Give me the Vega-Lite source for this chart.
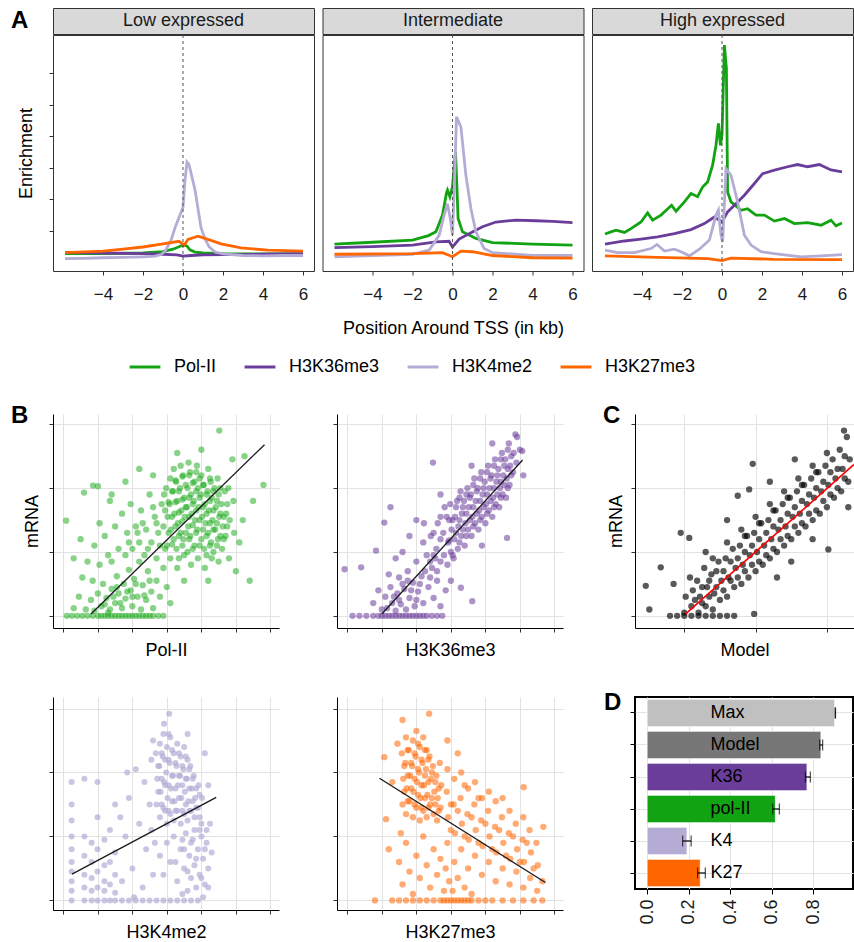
{
"$schema": "https://vega.github.io/schema/vega-lite/v6.json",
"padding": {"left": 10, "top": 7, "right": 0, "bottom": 0},
"background": "white",
"config": {
  "font": "Liberation Sans",
  "view": {"stroke": null},
  "axis": {"labelFont": "Liberation Sans", "titleFont": "Liberation Sans", "titleFontWeight": "normal", "labelColor": "#1a1a1a", "titleColor": "black", "tickColor": "#333333", "domainColor": "black", "gridColor": "#e2e2e2", "tickSize": 4, "labelFontSize": 17, "titleFontSize": 18},
  "title": {"font": "Liberation Sans", "fontWeight": "bold", "fontSize": 24, "color": "black", "anchor": "start", "frame": "group"}
},
"datasets": {
  "lowA": [
    {"s":"Pol-II","x":-5.9,"y":0.28},{"s":"Pol-II","x":-4,"y":0.28},{"s":"Pol-II","x":-2,"y":0.3},{"s":"Pol-II","x":-1,"y":0.34},{"s":"Pol-II","x":-0.5,"y":0.42},{"s":"Pol-II","x":-0.2,"y":0.5},{"s":"Pol-II","x":0.05,"y":0.57},{"s":"Pol-II","x":0.2,"y":0.52},{"s":"Pol-II","x":0.35,"y":0.4},{"s":"Pol-II","x":0.6,"y":0.33},{"s":"Pol-II","x":1,"y":0.3},{"s":"Pol-II","x":2,"y":0.28},{"s":"Pol-II","x":4,"y":0.27},{"s":"Pol-II","x":6,"y":0.27},
    {"s":"H3K36me3","x":-5.9,"y":0.32},{"s":"H3K36me3","x":-4,"y":0.3},{"s":"H3K36me3","x":-2,"y":0.28},{"s":"H3K36me3","x":-1,"y":0.26},{"s":"H3K36me3","x":-0.3,"y":0.24},{"s":"H3K36me3","x":0,"y":0.2},{"s":"H3K36me3","x":0.4,"y":0.22},{"s":"H3K36me3","x":1,"y":0.24},{"s":"H3K36me3","x":2,"y":0.25},{"s":"H3K36me3","x":4,"y":0.26},{"s":"H3K36me3","x":6,"y":0.28},
    {"s":"H3K4me2","x":-5.9,"y":0.12},{"s":"H3K4me2","x":-5,"y":0.13},{"s":"H3K4me2","x":-4,"y":0.15},{"s":"H3K4me2","x":-3,"y":0.16},{"s":"H3K4me2","x":-2,"y":0.18},{"s":"H3K4me2","x":-1.4,"y":0.2},{"s":"H3K4me2","x":-1.1,"y":0.25},{"s":"H3K4me2","x":-0.9,"y":0.35},{"s":"H3K4me2","x":-0.6,"y":0.7},{"s":"H3K4me2","x":-0.4,"y":1.1},{"s":"H3K4me2","x":-0.15,"y":1.5},{"s":"H3K4me2","x":0,"y":1.75},{"s":"H3K4me2","x":0.1,"y":2.6},{"s":"H3K4me2","x":0.2,"y":3.18},{"s":"H3K4me2","x":0.3,"y":3.1},{"s":"H3K4me2","x":0.45,"y":2.7},{"s":"H3K4me2","x":0.6,"y":2.3},{"s":"H3K4me2","x":0.75,"y":1.7},{"s":"H3K4me2","x":0.9,"y":1.1},{"s":"H3K4me2","x":1.1,"y":0.75},{"s":"H3K4me2","x":1.3,"y":0.5},{"s":"H3K4me2","x":1.6,"y":0.33},{"s":"H3K4me2","x":2,"y":0.27},{"s":"H3K4me2","x":3,"y":0.22},{"s":"H3K4me2","x":4,"y":0.21},{"s":"H3K4me2","x":5,"y":0.22},{"s":"H3K4me2","x":6,"y":0.22},
    {"s":"H3K27me3","x":-5.9,"y":0.31},{"s":"H3K27me3","x":-4,"y":0.36},{"s":"H3K27me3","x":-3,"y":0.42},{"s":"H3K27me3","x":-2,"y":0.49},{"s":"H3K27me3","x":-1,"y":0.59},{"s":"H3K27me3","x":-0.2,"y":0.67},{"s":"H3K27me3","x":0.06,"y":0.55},{"s":"H3K27me3","x":0.25,"y":0.73},{"s":"H3K27me3","x":0.75,"y":0.83},{"s":"H3K27me3","x":1.25,"y":0.73},{"s":"H3K27me3","x":1.9,"y":0.59},{"s":"H3K27me3","x":2.9,"y":0.46},{"s":"H3K27me3","x":4.25,"y":0.39},{"s":"H3K27me3","x":6,"y":0.36}
  ],
  "midA": [
    {"s":"Pol-II","x":-5.9,"y":0.58},{"s":"Pol-II","x":-4,"y":0.64},{"s":"Pol-II","x":-2,"y":0.71},{"s":"Pol-II","x":-1.2,"y":0.85},{"s":"Pol-II","x":-0.83,"y":0.97},{"s":"Pol-II","x":-0.5,"y":1.5},{"s":"Pol-II","x":-0.3,"y":2.2},{"s":"Pol-II","x":-0.25,"y":2.29},{"s":"Pol-II","x":-0.13,"y":2.08},{"s":"Pol-II","x":0,"y":2.4},{"s":"Pol-II","x":0.08,"y":3.0},{"s":"Pol-II","x":0.15,"y":3.5},{"s":"Pol-II","x":0.22,"y":2.4},{"s":"Pol-II","x":0.28,"y":1.39},{"s":"Pol-II","x":0.5,"y":0.97},{"s":"Pol-II","x":1.17,"y":0.76},{"s":"Pol-II","x":2,"y":0.63},{"s":"Pol-II","x":4,"y":0.58},{"s":"Pol-II","x":6,"y":0.55},
    {"s":"H3K36me3","x":-5.9,"y":0.47},{"s":"H3K36me3","x":-4,"y":0.5},{"s":"H3K36me3","x":-2,"y":0.55},{"s":"H3K36me3","x":-0.83,"y":0.65},{"s":"H3K36me3","x":-0.17,"y":0.67},{"s":"H3K36me3","x":0,"y":0.49},{"s":"H3K36me3","x":0.33,"y":0.74},{"s":"H3K36me3","x":0.83,"y":0.91},{"s":"H3K36me3","x":1.5,"y":1.13},{"s":"H3K36me3","x":2.17,"y":1.28},{"s":"H3K36me3","x":3.17,"y":1.34},{"s":"H3K36me3","x":4.17,"y":1.32},{"s":"H3K36me3","x":5,"y":1.3},{"s":"H3K36me3","x":6,"y":1.26},
    {"s":"H3K4me2","x":-5.9,"y":0.18},{"s":"H3K4me2","x":-4,"y":0.22},{"s":"H3K4me2","x":-2,"y":0.26},{"s":"H3K4me2","x":-1.17,"y":0.39},{"s":"H3K4me2","x":-0.67,"y":0.86},{"s":"H3K4me2","x":-0.42,"y":1.5},{"s":"H3K4me2","x":-0.25,"y":1.86},{"s":"H3K4me2","x":-0.08,"y":1.28},{"s":"H3K4me2","x":0,"y":0.86},{"s":"H3K4me2","x":0.12,"y":2.97},{"s":"H3K4me2","x":0.2,"y":4.61},{"s":"H3K4me2","x":0.42,"y":4.29},{"s":"H3K4me2","x":0.67,"y":2.76},{"s":"H3K4me2","x":0.92,"y":1.71},{"s":"H3K4me2","x":1.17,"y":0.97},{"s":"H3K4me2","x":1.58,"y":0.44},{"s":"H3K4me2","x":2,"y":0.31},{"s":"H3K4me2","x":4,"y":0.22},{"s":"H3K4me2","x":6,"y":0.22},
    {"s":"H3K27me3","x":-5.9,"y":0.26},{"s":"H3K27me3","x":-2,"y":0.28},{"s":"H3K27me3","x":-0.5,"y":0.31},{"s":"H3K27me3","x":0,"y":0.18},{"s":"H3K27me3","x":0.42,"y":0.36},{"s":"H3K27me3","x":1,"y":0.34},{"s":"H3K27me3","x":2,"y":0.22},{"s":"H3K27me3","x":4,"y":0.15},{"s":"H3K27me3","x":6,"y":0.14}
  ],
  "highA": [
    {"s":"Pol-II","x":-5.85,"y":0.9},{"s":"Pol-II","x":-5.55,"y":0.97},{"s":"Pol-II","x":-5.3,"y":1.02},{"s":"Pol-II","x":-4.88,"y":0.95},{"s":"Pol-II","x":-4.55,"y":1.07},{"s":"Pol-II","x":-4.05,"y":1.28},{"s":"Pol-II","x":-3.72,"y":1.57},{"s":"Pol-II","x":-3.47,"y":1.34},{"s":"Pol-II","x":-3.05,"y":1.5},{"s":"Pol-II","x":-2.52,"y":1.81},{"s":"Pol-II","x":-2.3,"y":1.62},{"s":"Pol-II","x":-1.88,"y":1.92},{"s":"Pol-II","x":-1.55,"y":2.18},{"s":"Pol-II","x":-1.22,"y":2.08},{"s":"Pol-II","x":-0.97,"y":2.39},{"s":"Pol-II","x":-0.72,"y":2.55},{"s":"Pol-II","x":-0.47,"y":3.08},{"s":"Pol-II","x":-0.3,"y":3.71},{"s":"Pol-II","x":-0.18,"y":4.4},{"s":"Pol-II","x":-0.08,"y":3.71},{"s":"Pol-II","x":0,"y":4.03},{"s":"Pol-II","x":0.12,"y":6.88},{"s":"Pol-II","x":0.22,"y":6.14},{"s":"Pol-II","x":0.28,"y":2.23},{"s":"Pol-II","x":0.45,"y":1.92},{"s":"Pol-II","x":0.95,"y":1.65},{"s":"Pol-II","x":1.28,"y":1.7},{"s":"Pol-II","x":1.7,"y":1.5},{"s":"Pol-II","x":2.12,"y":1.5},{"s":"Pol-II","x":2.62,"y":1.31},{"s":"Pol-II","x":3.12,"y":1.39},{"s":"Pol-II","x":3.62,"y":1.23},{"s":"Pol-II","x":4.28,"y":1.26},{"s":"Pol-II","x":4.95,"y":1.18},{"s":"Pol-II","x":5.45,"y":1.34},{"s":"Pol-II","x":5.7,"y":1.16},{"s":"Pol-II","x":6,"y":1.25},
    {"s":"H3K36me3","x":-5.85,"y":0.58},{"s":"H3K36me3","x":-4.88,"y":0.68},{"s":"H3K36me3","x":-4.05,"y":0.74},{"s":"H3K36me3","x":-3.22,"y":0.81},{"s":"H3K36me3","x":-2.38,"y":0.91},{"s":"H3K36me3","x":-1.55,"y":1.04},{"s":"H3K36me3","x":-0.88,"y":1.23},{"s":"H3K36me3","x":-0.38,"y":1.44},{"s":"H3K36me3","x":0,"y":1.28},{"s":"H3K36me3","x":0.28,"y":1.6},{"s":"H3K36me3","x":0.62,"y":1.81},{"s":"H3K36me3","x":1.12,"y":2.13},{"s":"H3K36me3","x":1.62,"y":2.5},{"s":"H3K36me3","x":2.03,"y":2.81},{"s":"H3K36me3","x":2.62,"y":2.92},{"s":"H3K36me3","x":3.28,"y":3.03},{"s":"H3K36me3","x":3.78,"y":3.1},{"s":"H3K36me3","x":4.28,"y":3.03},{"s":"H3K36me3","x":4.87,"y":3.1},{"s":"H3K36me3","x":5.45,"y":2.93},{"s":"H3K36me3","x":6,"y":2.87},
    {"s":"H3K4me2","x":-5.85,"y":0.39},{"s":"H3K4me2","x":-5.22,"y":0.31},{"s":"H3K4me2","x":-4.38,"y":0.31},{"s":"H3K4me2","x":-3.55,"y":0.44},{"s":"H3K4me2","x":-3.25,"y":0.57},{"s":"H3K4me2","x":-2.88,"y":0.36},{"s":"H3K4me2","x":-2.38,"y":0.42},{"s":"H3K4me2","x":-2.05,"y":0.34},{"s":"H3K4me2","x":-1.63,"y":0.21},{"s":"H3K4me2","x":-1.13,"y":0.42},{"s":"H3K4me2","x":-0.63,"y":0.71},{"s":"H3K4me2","x":-0.3,"y":1.5},{"s":"H3K4me2","x":-0.18,"y":1.66},{"s":"H3K4me2","x":-0.05,"y":0.86},{"s":"H3K4me2","x":0.03,"y":0.65},{"s":"H3K4me2","x":0.2,"y":2.97},{"s":"H3K4me2","x":0.45,"y":2.76},{"s":"H3K4me2","x":0.78,"y":1.92},{"s":"H3K4me2","x":1.12,"y":0.86},{"s":"H3K4me2","x":1.45,"y":0.55},{"s":"H3K4me2","x":1.95,"y":0.34},{"s":"H3K4me2","x":2.62,"y":0.28},{"s":"H3K4me2","x":3.95,"y":0.18},{"s":"H3K4me2","x":4.95,"y":0.21},{"s":"H3K4me2","x":6,"y":0.25},
    {"s":"H3K27me3","x":-5.85,"y":0.21},{"s":"H3K27me3","x":-3.2,"y":0.16},{"s":"H3K27me3","x":-0.72,"y":0.12},{"s":"H3K27me3","x":0,"y":0.06},{"s":"H3K27me3","x":0.45,"y":0.14},{"s":"H3K27me3","x":2.6,"y":0.1},{"s":"H3K27me3","x":6,"y":0.09}
  ],
  "pol": [
    {"x":0.1,"y":0},{"x":0.25,"y":0},{"x":0.4,"y":0},{"x":0.55,"y":0},{"x":0.7,"y":0},{"x":0.85,"y":0},{"x":1.0,"y":0},{"x":1.1,"y":0},{"x":1.2,"y":0},{"x":1.3,"y":0},{"x":1.4,"y":0},{"x":1.5,"y":0},{"x":1.6,"y":0},{"x":1.7,"y":0},{"x":1.8,"y":0},{"x":1.9,"y":0},{"x":2.0,"y":0},{"x":2.1,"y":0},{"x":2.2,"y":0},{"x":2.3,"y":0},{"x":2.4,"y":0},{"x":2.5,"y":0},{"x":2.6,"y":0},{"x":2.75,"y":0},{"x":2.9,"y":0},
    {"x":0.65,"y":0.1},{"x":0.8,"y":0.25},{"x":0.9,"y":0.08},{"x":1.0,"y":0.35},{"x":1.1,"y":0.15},{"x":1.15,"y":0.5},{"x":1.25,"y":0.28},{"x":1.35,"y":0.1},{"x":1.4,"y":0.42},{"x":1.5,"y":0.2},{"x":1.55,"y":0.62},{"x":1.6,"y":0.35},{"x":1.7,"y":0.12},{"x":1.75,"y":0.5},{"x":1.8,"y":0.27},{"x":1.9,"y":0.72},{"x":1.95,"y":0.4},{"x":2.0,"y":0.15},{"x":2.05,"y":0.58},{"x":2.15,"y":0.3},{"x":2.2,"y":0.85},{"x":2.25,"y":0.1},{"x":2.3,"y":0.48},{"x":2.4,"y":0.25},{"x":2.45,"y":0.7},{"x":2.55,"y":0.38},{"x":2.6,"y":0.12},{"x":2.7,"y":0.55},{"x":2.8,"y":0.3},{"x":2.9,"y":0.75},{"x":3.0,"y":0.45},{"x":3.1,"y":0.2},{"x":0.45,"y":0.3},{"x":0.3,"y":0.12},{"x":0.55,"y":0.6},{"x":1.05,"y":0.8},{"x":1.3,"y":0.95},{"x":0.85,"y":0.55},
    {"x":1.2,"y":0.18},{"x":1.45,"y":0.3},{"x":1.65,"y":0.2},{"x":1.85,"y":0.38},{"x":2.1,"y":0.5},{"x":2.35,"y":0.32},{"x":1.3,"y":0.05},{"x":2.0,"y":0.3},{"x":1.55,"y":0.45},{"x":2.5,"y":0.55},
    {"x":1.2,"y":1.25},{"x":1.4,"y":0.85},{"x":1.5,"y":1.4},{"x":1.6,"y":1.05},{"x":1.7,"y":1.6},{"x":1.8,"y":0.95},{"x":1.85,"y":1.3},{"x":1.95,"y":1.75},{"x":2.0,"y":1.05},{"x":2.1,"y":1.4},{"x":2.2,"y":1.15},{"x":2.25,"y":1.65},{"x":2.35,"y":0.95},{"x":2.4,"y":1.35},{"x":2.5,"y":1.9},{"x":2.55,"y":1.15},{"x":2.65,"y":1.55},{"x":2.7,"y":0.9},{"x":2.75,"y":1.3},{"x":2.85,"y":1.75},{"x":2.95,"y":1.05},{"x":0.9,"y":1.1},{"x":1.05,"y":1.45},{"x":1.35,"y":1.8},{"x":0.7,"y":0.85},
    {"x":2.3,"y":1.45},{"x":2.6,"y":1.7},{"x":2.45,"y":1.05},{"x":2.8,"y":1.1},{"x":2.15,"y":1.3},{"x":1.9,"y":1.15},{"x":2.7,"y":1.45},
    {"x":2.9,"y":1.4},{"x":2.92,"y":1.9},{"x":3.0,"y":1.1},{"x":3.02,"y":1.55},{"x":2.98,"y":2.0},{"x":3.1,"y":0.9},{"x":3.12,"y":1.35},{"x":3.08,"y":1.75},{"x":3.1,"y":2.15},{"x":3.2,"y":1.2},{"x":3.22,"y":1.6},{"x":3.18,"y":1.95},{"x":3.2,"y":2.3},{"x":3.3,"y":0.75},{"x":3.28,"y":1.05},{"x":3.32,"y":1.45},{"x":3.3,"y":1.8},{"x":3.27,"y":2.1},{"x":3.4,"y":1.3},{"x":3.42,"y":1.65},{"x":3.38,"y":2.0},{"x":3.4,"y":2.35},{"x":3.5,"y":0.95},{"x":3.48,"y":1.2},{"x":3.52,"y":1.55},{"x":3.5,"y":1.85},{"x":3.47,"y":2.2},{"x":3.6,"y":1.0},{"x":3.62,"y":1.4},{"x":3.58,"y":1.7},{"x":3.6,"y":2.0},{"x":3.63,"y":2.4},{"x":3.7,"y":0.8},{"x":3.68,"y":1.25},{"x":3.72,"y":1.6},{"x":3.7,"y":1.9},{"x":3.67,"y":2.25},{"x":3.8,"y":1.1},{"x":3.82,"y":1.5},{"x":3.78,"y":1.8},{"x":3.8,"y":2.1},{"x":3.9,"y":0.9},{"x":3.88,"y":1.35},{"x":3.92,"y":1.7},{"x":3.9,"y":2.0},{"x":3.87,"y":2.35},{"x":4.0,"y":1.2},{"x":4.02,"y":1.55},{"x":3.98,"y":1.9},{"x":4.0,"y":2.2},{"x":4.1,"y":0.75},{"x":4.08,"y":1.05},{"x":4.12,"y":1.45},{"x":4.1,"y":1.75},{"x":4.07,"y":2.05},{"x":4.2,"y":1.3},{"x":4.22,"y":1.65},{"x":4.18,"y":1.95},{"x":4.2,"y":2.3},{"x":4.3,"y":0.9},{"x":4.28,"y":1.15},{"x":4.32,"y":1.5},{"x":4.3,"y":1.85},{"x":4.27,"y":2.1},{"x":4.4,"y":1.35},{"x":4.42,"y":1.7},{"x":4.38,"y":2.0},{"x":4.5,"y":0.85},{"x":4.48,"y":1.2},{"x":4.52,"y":1.55},{"x":4.5,"y":1.9},{"x":4.47,"y":2.15},{"x":4.6,"y":1.05},{"x":4.62,"y":1.4},{"x":4.58,"y":1.75},{"x":4.7,"y":1.25},{"x":4.72,"y":1.6},{"x":4.68,"y":1.95},{"x":4.8,"y":0.9},{"x":4.82,"y":1.5},{"x":4.78,"y":2.0},{"x":4.95,"y":1.3},{"x":4.93,"y":1.8},
    {"x":2.95,"y":1.65},{"x":3.05,"y":1.3},{"x":3.05,"y":1.78},{"x":3.15,"y":1.12},{"x":3.15,"y":1.55},{"x":3.15,"y":1.95},{"x":3.25,"y":1.4},{"x":3.25,"y":1.78},{"x":3.25,"y":2.12},{"x":3.35,"y":0.9},{"x":3.35,"y":1.25},{"x":3.35,"y":1.62},{"x":3.35,"y":1.95},{"x":3.45,"y":1.1},{"x":3.45,"y":1.48},{"x":3.45,"y":1.82},{"x":3.45,"y":2.18},{"x":3.55,"y":1.3},{"x":3.55,"y":1.7},{"x":3.55,"y":2.05},{"x":3.65,"y":1.2},{"x":3.65,"y":1.55},{"x":3.65,"y":1.85},{"x":3.65,"y":2.2},{"x":3.75,"y":1.05},{"x":3.75,"y":1.42},{"x":3.75,"y":1.75},{"x":3.75,"y":2.08},{"x":3.85,"y":1.3},{"x":3.85,"y":1.65},{"x":3.85,"y":1.95},{"x":3.85,"y":2.25},{"x":3.95,"y":1.1},{"x":3.95,"y":1.5},{"x":3.95,"y":1.85},{"x":3.95,"y":2.15},{"x":4.05,"y":1.35},{"x":4.05,"y":1.7},{"x":4.05,"y":2.05},{"x":4.15,"y":0.95},{"x":4.15,"y":1.25},{"x":4.15,"y":1.6},{"x":4.15,"y":1.9},{"x":4.25,"y":1.1},{"x":4.25,"y":1.45},{"x":4.25,"y":1.8},{"x":4.25,"y":2.15},{"x":4.35,"y":1.0},{"x":4.35,"y":1.35},{"x":4.35,"y":1.65},{"x":4.35,"y":1.95},{"x":4.45,"y":1.1},{"x":4.45,"y":1.45},{"x":4.45,"y":1.8},{"x":4.55,"y":1.25},{"x":4.55,"y":1.6},{"x":4.55,"y":2.0},{"x":4.65,"y":1.2},{"x":4.65,"y":1.55},{"x":4.75,"y":1.4},{"x":4.75,"y":1.75},
    {"x":5.1,"y":1.15},{"x":5.25,"y":2.5},{"x":5.4,"y":0.55},{"x":5.8,"y":2.05},{"x":4.52,"y":2.9},{"x":4.9,"y":2.45},{"x":2.2,"y":2.3},{"x":1.8,"y":2.1},{"x":0.6,"y":1.93},{"x":0.08,"y":1.49},{"x":0.86,"y":2.04},{"x":1.0,"y":2.03},{"x":0.3,"y":0.9},{"x":0.5,"y":1.2},{"x":1.4,"y":1.9},{"x":2.6,"y":2.2},{"x":3.3,"y":2.55},{"x":4.0,"y":2.6},{"x":5.0,"y":0.7},{"x":3.5,"y":0.55},{"x":4.2,"y":0.55},{"x":5.2,"y":1.5},{"x":5.5,"y":1.8}
  ],
  "polLine": [{"x":0.8,"y":0.03},{"x":5.83,"y":2.68}],
  "k36": [
    {"x":0.15,"y":0},{"x":0.35,"y":0},{"x":0.55,"y":0},{"x":0.75,"y":0},{"x":0.9,"y":0},{"x":1.0,"y":0},{"x":1.1,"y":0},{"x":1.2,"y":0},{"x":1.3,"y":0},{"x":1.4,"y":0},{"x":1.5,"y":0},{"x":1.6,"y":0},{"x":1.7,"y":0},{"x":1.8,"y":0},{"x":1.9,"y":0},{"x":2.0,"y":0},{"x":2.1,"y":0},{"x":2.2,"y":0},{"x":2.3,"y":0},{"x":2.45,"y":0},{"x":2.6,"y":0},{"x":2.75,"y":0},
    {"x":1.0,"y":0.1},{"x":1.1,"y":0.3},{"x":1.15,"y":0.12},{"x":1.25,"y":0.45},{"x":1.3,"y":0.2},{"x":1.4,"y":0.08},{"x":1.45,"y":0.35},{"x":1.5,"y":0.6},{"x":1.55,"y":0.18},{"x":1.65,"y":0.42},{"x":1.7,"y":0.1},{"x":1.75,"y":0.7},{"x":1.8,"y":0.28},{"x":1.9,"y":0.52},{"x":1.95,"y":0.15},{"x":2.0,"y":0.85},{"x":2.05,"y":0.38},{"x":2.15,"y":0.62},{"x":2.2,"y":0.2},{"x":2.3,"y":0.95},{"x":2.35,"y":0.45},{"x":2.45,"y":0.75},{"x":2.5,"y":0.28},{"x":2.6,"y":0.55},{"x":2.7,"y":0.15},{"x":1.2,"y":0.65},{"x":0.9,"y":0.4},{"x":0.75,"y":0.2},{"x":2.85,"y":0.4},
    {"x":1.35,"y":0.3},{"x":1.6,"y":0.5},{"x":1.85,"y":0.4},{"x":2.1,"y":0.5},{"x":2.25,"y":0.7},{"x":2.4,"y":0.6},{"x":1.5,"y":0.25},{"x":2.0,"y":0.25},{"x":2.55,"y":0.9},{"x":1.75,"y":0.55},
    {"x":2.2,"y":1.15},{"x":2.22,"y":1.45},{"x":2.4,"y":0.85},{"x":2.42,"y":1.25},{"x":2.6,"y":0.7},{"x":2.58,"y":1.05},{"x":2.62,"y":1.45},{"x":2.8,"y":0.95},{"x":2.78,"y":1.3},{"x":2.82,"y":1.7},{"x":2.9,"y":0.8},{"x":2.92,"y":1.15},{"x":2.88,"y":1.55},{"x":3.0,"y":1.0},{"x":3.02,"y":1.35},{"x":2.98,"y":1.75},{"x":3.1,"y":1.2},{"x":3.12,"y":1.55},{"x":3.08,"y":0.9},{"x":3.2,"y":1.05},{"x":3.22,"y":1.4},{"x":3.18,"y":1.8},{"x":3.3,"y":1.25},{"x":3.32,"y":1.6},{"x":3.28,"y":1.95},{"x":3.4,"y":1.1},{"x":3.42,"y":1.45},{"x":3.38,"y":1.8},{"x":3.5,"y":1.35},{"x":3.52,"y":1.7},{"x":3.48,"y":2.0},{"x":3.6,"y":1.25},{"x":3.62,"y":1.55},{"x":3.58,"y":1.9},{"x":3.7,"y":1.45},{"x":3.72,"y":1.8},{"x":3.68,"y":2.15},{"x":3.8,"y":1.35},{"x":3.82,"y":1.65},{"x":3.78,"y":2.0},{"x":3.9,"y":1.55},{"x":3.92,"y":1.9},{"x":3.88,"y":2.25},{"x":4.0,"y":1.45},{"x":4.02,"y":1.75},{"x":3.98,"y":2.1},{"x":4.1,"y":1.65},{"x":4.12,"y":2.0},{"x":4.08,"y":2.35},{"x":4.2,"y":1.55},{"x":4.22,"y":1.85},{"x":4.18,"y":2.2},{"x":4.3,"y":1.75},{"x":4.32,"y":2.1},{"x":4.28,"y":2.45},{"x":4.4,"y":1.7},{"x":4.42,"y":2.0},{"x":4.38,"y":2.3},{"x":4.5,"y":1.9},{"x":4.52,"y":2.2},{"x":4.48,"y":2.55},{"x":4.6,"y":1.85},{"x":4.62,"y":2.15},{"x":4.58,"y":2.45},{"x":4.7,"y":2.05},{"x":4.72,"y":2.35},{"x":4.68,"y":2.7},{"x":4.8,"y":2.25},{"x":4.82,"y":2.55},{"x":4.9,"y":2.4},{"x":4.92,"y":2.8},{"x":5.0,"y":2.6},
    {"x":2.5,"y":0.95},{"x":2.5,"y":1.3},{"x":2.7,"y":0.85},{"x":2.7,"y":1.2},{"x":2.7,"y":1.55},{"x":2.95,"y":1.18},{"x":2.95,"y":1.5},{"x":3.05,"y":0.95},{"x":3.05,"y":1.5},{"x":3.15,"y":1.3},{"x":3.15,"y":1.7},{"x":3.25,"y":1.15},{"x":3.25,"y":1.5},{"x":3.25,"y":1.85},{"x":3.35,"y":1.35},{"x":3.35,"y":1.7},{"x":3.45,"y":1.25},{"x":3.45,"y":1.6},{"x":3.45,"y":1.9},{"x":3.55,"y":1.5},{"x":3.55,"y":1.85},{"x":3.65,"y":1.4},{"x":3.65,"y":1.7},{"x":3.65,"y":2.05},{"x":3.75,"y":1.6},{"x":3.75,"y":1.95},{"x":3.85,"y":1.5},{"x":3.85,"y":1.8},{"x":3.85,"y":2.15},{"x":3.95,"y":1.7},{"x":3.95,"y":2.0},{"x":4.05,"y":1.6},{"x":4.05,"y":1.9},{"x":4.05,"y":2.25},{"x":4.15,"y":1.8},{"x":4.15,"y":2.15},{"x":4.25,"y":1.7},{"x":4.25,"y":2.0},{"x":4.25,"y":2.35},{"x":4.35,"y":1.9},{"x":4.35,"y":2.2},{"x":4.45,"y":1.85},{"x":4.45,"y":2.1},{"x":4.45,"y":2.45},{"x":4.55,"y":2.05},{"x":4.55,"y":2.35},{"x":4.65,"y":2.0},{"x":4.65,"y":2.3},{"x":4.65,"y":2.6},{"x":4.75,"y":2.2},{"x":4.75,"y":2.5},
    {"x":2.48,"y":2.4},{"x":-0.08,"y":0.73},{"x":0.4,"y":0.76},{"x":1.07,"y":1.46},{"x":0.83,"y":1.02},{"x":3.29,"y":0.44},{"x":3.62,"y":0.23},{"x":4.63,"y":1.22},{"x":5.07,"y":2.58},{"x":4.87,"y":2.84},{"x":1.6,"y":1.0},{"x":1.8,"y":1.25},{"x":2.0,"y":1.5},{"x":1.4,"y":0.9},{"x":3.0,"y":0.55},{"x":3.9,"y":1.1},{"x":4.2,"y":2.7},{"x":3.6,"y":2.35},{"x":5.1,"y":2.2},{"x":2.7,"y":1.9},{"x":1.25,"y":1.7}
  ],
  "k36Line": [{"x":1.0,"y":0.03},{"x":5.08,"y":2.44}],
  "k4": [
    {"x":0.24,"y":0},{"x":0.24,"y":0.15},{"x":0.24,"y":0.3},{"x":0.24,"y":0.45},{"x":0.24,"y":0.6},{"x":0.24,"y":0.8},{"x":0.24,"y":1.0},{"x":0.24,"y":1.25},{"x":0.24,"y":1.5},{"x":0.24,"y":1.85},
    {"x":0.61,"y":0},{"x":0.61,"y":0.2},{"x":0.61,"y":0.4},{"x":0.61,"y":0.7},{"x":0.61,"y":1.0},{"x":0.61,"y":1.9},
    {"x":0.82,"y":0},{"x":0.82,"y":0.15},{"x":0.82,"y":0.35},{"x":0.82,"y":0.6},{"x":0.82,"y":0.9},
    {"x":0.99,"y":0},{"x":0.99,"y":0.2},{"x":0.99,"y":0.45},{"x":0.99,"y":0.8},{"x":0.99,"y":1.3},{"x":0.99,"y":1.85},
    {"x":1.19,"y":0},{"x":1.19,"y":0.15},{"x":1.19,"y":0.3},{"x":1.19,"y":0.55},{"x":1.19,"y":0.95},
    {"x":1.35,"y":0},{"x":1.35,"y":0.25},{"x":1.35,"y":0.6},{"x":1.35,"y":1.1},
    {"x":1.5,"y":0},{"x":1.5,"y":0.12},{"x":1.5,"y":0.4},{"x":1.5,"y":0.75},{"x":1.5,"y":1.5},
    {"x":1.7,"y":0.3},{"x":1.8,"y":1.0},{"x":1.9,"y":1.6},{"x":2.0,"y":0.5},{"x":2.1,"y":2.05},{"x":2.2,"y":1.2},{"x":2.3,"y":0.2},{"x":2.4,"y":0.8},{"x":2.5,"y":1.5},{"x":2.55,"y":2.2},{"x":1.65,"y":1.3},{"x":2.05,"y":0.05},{"x":2.35,"y":1.85},{"x":1.85,"y":2.0},{"x":2.6,"y":0.4},
    {"x":1.7,"y":0},{"x":1.9,"y":0},{"x":2.1,"y":0},{"x":2.3,"y":0},{"x":2.5,"y":0},{"x":2.7,"y":0},{"x":2.9,"y":0},{"x":3.1,"y":0},{"x":3.3,"y":0},{"x":3.5,"y":0},{"x":3.7,"y":0},{"x":3.9,"y":0},
    {"x":2.7,"y":1.5},{"x":2.72,"y":1.9},{"x":2.68,"y":2.3},{"x":2.8,"y":1.3},{"x":2.82,"y":1.7},{"x":2.78,"y":2.1},{"x":2.8,"y":2.45},{"x":2.9,"y":1.45},{"x":2.92,"y":1.85},{"x":2.88,"y":2.25},{"x":2.9,"y":2.6},{"x":3.0,"y":1.2},{"x":3.02,"y":1.6},{"x":2.98,"y":2.0},{"x":3.0,"y":2.4},{"x":3.1,"y":1.35},{"x":3.12,"y":1.75},{"x":3.08,"y":2.15},{"x":3.1,"y":2.55},{"x":3.2,"y":1.25},{"x":3.22,"y":1.55},{"x":3.18,"y":1.95},{"x":3.2,"y":2.3},{"x":3.3,"y":1.4},{"x":3.32,"y":1.8},{"x":3.28,"y":2.1},{"x":3.3,"y":2.45},{"x":3.4,"y":1.2},{"x":3.42,"y":1.6},{"x":3.38,"y":1.95},{"x":3.4,"y":2.25},{"x":3.5,"y":1.35},{"x":3.52,"y":1.7},{"x":3.48,"y":2.05},{"x":3.5,"y":2.4},{"x":3.6,"y":1.25},{"x":3.62,"y":1.55},{"x":3.58,"y":1.9},{"x":3.6,"y":2.2},{"x":3.7,"y":1.4},{"x":3.72,"y":1.75},{"x":3.68,"y":2.1},{"x":3.8,"y":1.3},{"x":3.82,"y":1.6},{"x":3.78,"y":1.95},{"x":3.9,"y":1.45},{"x":3.92,"y":1.8},{"x":4.0,"y":1.2},{"x":4.02,"y":1.6},
    {"x":2.75,"y":1.7},{"x":2.75,"y":2.1},{"x":2.85,"y":1.5},{"x":2.85,"y":1.9},{"x":2.85,"y":2.3},{"x":2.95,"y":1.4},{"x":2.95,"y":1.8},{"x":2.95,"y":2.2},{"x":3.05,"y":1.4},{"x":3.05,"y":1.8},{"x":3.05,"y":2.2},{"x":3.05,"y":2.6},{"x":3.15,"y":1.55},{"x":3.15,"y":1.95},{"x":3.15,"y":2.35},{"x":3.25,"y":1.4},{"x":3.25,"y":1.75},{"x":3.25,"y":2.15},{"x":3.35,"y":1.6},{"x":3.35,"y":1.95},{"x":3.35,"y":2.3},{"x":3.45,"y":1.4},{"x":3.45,"y":1.8},{"x":3.45,"y":2.1},{"x":3.55,"y":1.5},{"x":3.55,"y":1.9},{"x":3.55,"y":2.25},{"x":3.65,"y":1.4},{"x":3.65,"y":1.75},{"x":3.65,"y":2.05},{"x":3.75,"y":1.55},{"x":3.75,"y":1.9},{"x":3.85,"y":1.45},{"x":3.85,"y":1.75},{"x":3.95,"y":1.3},{"x":3.95,"y":1.65},
    {"x":3.0,"y":0.9},{"x":3.1,"y":0.6},{"x":3.2,"y":1.0},{"x":3.3,"y":0.3},{"x":3.4,"y":0.8},{"x":3.5,"y":0.5},{"x":3.55,"y":1.05},{"x":3.6,"y":0.15},{"x":3.65,"y":0.7},{"x":3.7,"y":0.35},{"x":3.75,"y":0.95},{"x":3.8,"y":0.55},{"x":3.85,"y":0.2},{"x":3.9,"y":0.8},{"x":3.95,"y":0.4},{"x":4.0,"y":1.0},{"x":4.05,"y":0.65},{"x":4.1,"y":0.25},{"x":4.15,"y":0.9},{"x":4.2,"y":0.5},{"x":4.25,"y":1.2},{"x":4.3,"y":0.75},{"x":3.45,"y":0.1},{"x":2.9,"y":0.4},{"x":2.8,"y":0.7},{"x":4.05,"y":0.05},
    {"x":3.25,"y":0.6},{"x":3.45,"y":0.95},{"x":3.6,"y":0.45},{"x":3.7,"y":0.9},{"x":3.85,"y":0.65},{"x":4.0,"y":0.35},{"x":4.1,"y":0.8},{"x":4.2,"y":0.2},{"x":3.95,"y":1.1},{"x":3.5,"y":0.8},{"x":3.8,"y":1.1},{"x":4.15,"y":1.1},
    {"x":3.07,"y":2.92},{"x":2.92,"y":2.76},{"x":2.6,"y":2.5},{"x":3.6,"y":2.6},{"x":4.1,"y":2.3},{"x":4.2,"y":1.8},{"x":2.55,"y":1.1},{"x":2.65,"y":0.9}
  ],
  "k4Line": [{"x":0.25,"y":0.41},{"x":4.43,"y":1.61}],
  "k27": [
    {"x":1.6,"y":1.5},{"x":1.62,"y":1.9},{"x":1.58,"y":2.3},{"x":1.7,"y":1.35},{"x":1.72,"y":1.75},{"x":1.68,"y":2.15},{"x":1.7,"y":2.55},{"x":1.8,"y":1.55},{"x":1.82,"y":1.95},{"x":1.78,"y":2.35},{"x":1.9,"y":1.3},{"x":1.92,"y":1.7},{"x":1.88,"y":2.1},{"x":1.9,"y":2.5},{"x":2.0,"y":1.45},{"x":2.02,"y":1.85},{"x":1.98,"y":2.25},{"x":2.0,"y":2.65},{"x":2.1,"y":1.25},{"x":2.12,"y":1.6},{"x":2.08,"y":2.0},{"x":2.1,"y":2.4},{"x":2.2,"y":1.4},{"x":2.22,"y":1.8},{"x":2.18,"y":2.15},{"x":2.2,"y":2.55},{"x":2.3,"y":1.3},{"x":2.32,"y":1.65},{"x":2.28,"y":2.05},{"x":2.3,"y":2.35},{"x":2.4,"y":1.5},{"x":2.42,"y":1.9},{"x":2.38,"y":2.25},{"x":2.5,"y":1.35},{"x":2.52,"y":1.7},{"x":2.48,"y":2.1},{"x":2.6,"y":1.25},{"x":2.62,"y":1.6},{"x":2.58,"y":1.95},{"x":2.7,"y":1.45},{"x":2.72,"y":1.8},{"x":2.68,"y":2.15},
    {"x":1.65,"y":1.7},{"x":1.65,"y":2.1},{"x":1.75,"y":1.55},{"x":1.75,"y":1.95},{"x":1.75,"y":2.35},{"x":1.85,"y":1.75},{"x":1.85,"y":2.15},{"x":1.95,"y":1.5},{"x":1.95,"y":1.9},{"x":1.95,"y":2.3},{"x":2.05,"y":1.65},{"x":2.05,"y":2.05},{"x":2.05,"y":2.45},{"x":2.15,"y":1.45},{"x":2.15,"y":1.8},{"x":2.15,"y":2.2},{"x":2.25,"y":1.6},{"x":2.25,"y":1.95},{"x":2.25,"y":2.35},{"x":2.35,"y":1.45},{"x":2.35,"y":1.85},{"x":2.35,"y":2.2},{"x":2.45,"y":1.6},{"x":2.45,"y":2.0},{"x":2.55,"y":1.5},{"x":2.55,"y":1.85},{"x":2.65,"y":1.4},{"x":2.65,"y":1.75},
    {"x":2.9,"y":0.9},{"x":2.92,"y":1.3},{"x":2.88,"y":1.7},{"x":2.9,"y":2.05},{"x":3.1,"y":0.6},{"x":3.12,"y":1.05},{"x":3.08,"y":1.5},{"x":3.1,"y":1.9},{"x":3.3,"y":0.8},{"x":3.32,"y":1.2},{"x":3.28,"y":1.6},{"x":3.3,"y":2.0},{"x":3.5,"y":0.5},{"x":3.52,"y":0.95},{"x":3.48,"y":1.35},{"x":3.5,"y":1.75},{"x":3.7,"y":0.7},{"x":3.72,"y":1.1},{"x":3.68,"y":1.5},{"x":3.7,"y":1.85},{"x":3.9,"y":0.4},{"x":3.92,"y":0.85},{"x":3.88,"y":1.25},{"x":3.9,"y":1.6},{"x":4.1,"y":0.6},{"x":4.12,"y":1.0},{"x":4.08,"y":1.4},{"x":4.1,"y":1.7},{"x":4.3,"y":0.3},{"x":4.32,"y":0.75},{"x":4.28,"y":1.15},{"x":4.3,"y":1.55},{"x":4.5,"y":0.5},{"x":4.52,"y":0.9},{"x":4.48,"y":1.3},{"x":4.5,"y":1.6},{"x":4.7,"y":0.25},{"x":4.72,"y":0.65},{"x":4.68,"y":1.05},{"x":4.7,"y":1.4},{"x":4.9,"y":0.45},{"x":4.92,"y":0.8},{"x":4.88,"y":1.2},{"x":5.1,"y":0.2},{"x":5.12,"y":0.6},{"x":5.08,"y":0.95},{"x":5.1,"y":1.3},{"x":5.11,"y":1.77},{"x":5.3,"y":0.35},{"x":5.32,"y":0.75},{"x":5.28,"y":1.1},{"x":5.5,"y":0.15},{"x":5.52,"y":0.55},{"x":5.48,"y":0.9},{"x":5.65,"y":0.3},{"x":5.68,"y":1.15},
    {"x":3.0,"y":1.1},{"x":3.2,"y":1.4},{"x":3.4,"y":1.0},{"x":3.6,"y":1.3},{"x":3.8,"y":0.9},{"x":4.0,"y":1.2},{"x":4.2,"y":0.8},{"x":4.4,"y":1.1},{"x":4.6,"y":0.7},{"x":4.8,"y":1.0},{"x":5.0,"y":0.6},{"x":5.2,"y":0.9},{"x":5.4,"y":0.5},{"x":3.0,"y":1.5},{"x":3.4,"y":1.8},{"x":3.8,"y":1.6},
    {"x":1.5,"y":0.6},{"x":1.6,"y":0.25},{"x":1.7,"y":0.9},{"x":1.8,"y":0.45},{"x":1.9,"y":0.1},{"x":2.0,"y":0.7},{"x":2.1,"y":0.35},{"x":2.2,"y":1.0},{"x":2.3,"y":0.55},{"x":2.4,"y":0.2},{"x":2.5,"y":0.8},{"x":2.6,"y":0.4},{"x":2.7,"y":0.65},{"x":2.8,"y":0.15},{"x":2.85,"y":0.5},{"x":2.95,"y":0.3},{"x":3.05,"y":0.15},{"x":3.2,"y":0.35},{"x":3.4,"y":0.2},{"x":3.6,"y":0.1},{"x":1.55,"y":1.05},
    {"x":1.3,"y":0},{"x":1.5,"y":0},{"x":1.7,"y":0},{"x":1.9,"y":0},{"x":2.1,"y":0},{"x":2.3,"y":0},{"x":2.5,"y":0},{"x":2.7,"y":0},{"x":2.8,"y":0},{"x":2.9,"y":0},{"x":3.0,"y":0},{"x":3.1,"y":0},{"x":3.2,"y":0},{"x":3.3,"y":0},{"x":3.4,"y":0},{"x":3.5,"y":0},{"x":3.6,"y":0},{"x":3.8,"y":0},{"x":4.0,"y":0},{"x":4.2,"y":0},{"x":4.5,"y":0},{"x":4.8,"y":0},{"x":5.1,"y":0},{"x":5.4,"y":0},{"x":5.65,"y":0},
    {"x":2.37,"y":2.92},{"x":1.6,"y":2.82},{"x":1.07,"y":2.24},{"x":1.12,"y":1.27},{"x":1.3,"y":1.85},{"x":1.45,"y":2.45},{"x":2.9,"y":2.5},{"x":3.2,"y":2.3},{"x":1.2,"y":0.8},{"x":0.8,"y":0}
  ],
  "k27Line": [{"x":0.93,"y":1.91},{"x":5.74,"y":0.28}],
  "mod": [
    {"x":0.8,"y":0},{"x":0.9,"y":0},{"x":1.0,"y":0},{"x":1.1,"y":0},{"x":1.2,"y":0},{"x":1.3,"y":0},{"x":1.4,"y":0},{"x":1.5,"y":0},{"x":1.6,"y":0},{"x":1.7,"y":0},
    {"x":1.0,"y":0.05},{"x":1.02,"y":0.3},{"x":1.1,"y":0.15},{"x":1.12,"y":0.4},{"x":1.08,"y":0.6},{"x":1.2,"y":0.05},{"x":1.22,"y":0.3},{"x":1.18,"y":0.55},{"x":1.3,"y":0.15},{"x":1.32,"y":0.45},{"x":1.28,"y":0.75},{"x":1.4,"y":0.1},{"x":1.42,"y":0.35},{"x":1.38,"y":0.65},{"x":1.4,"y":0.9},{"x":1.5,"y":0.25},{"x":1.52,"y":0.55},{"x":1.48,"y":0.85},{"x":1.6,"y":0.3},{"x":1.62,"y":0.6},{"x":1.58,"y":0.9},{"x":1.6,"y":1.15},{"x":1.7,"y":0.45},{"x":1.72,"y":0.75},{"x":1.68,"y":1.05},{"x":1.8,"y":0.5},{"x":1.82,"y":0.8},{"x":1.78,"y":1.1},{"x":1.8,"y":1.35},{"x":1.9,"y":0.6},{"x":1.92,"y":0.95},{"x":1.88,"y":1.25},{"x":2.0,"y":0.7},{"x":2.02,"y":1.0},{"x":1.98,"y":1.3},{"x":2.0,"y":1.55},{"x":2.1,"y":0.8},{"x":2.12,"y":1.1},{"x":2.08,"y":1.45},{"x":2.2,"y":0.9},{"x":2.22,"y":1.2},{"x":2.18,"y":1.5},{"x":2.2,"y":1.75},{"x":2.3,"y":1.0},{"x":2.32,"y":1.35},{"x":2.28,"y":1.65},{"x":2.4,"y":1.1},{"x":2.42,"y":1.4},{"x":2.38,"y":1.75},{"x":2.4,"y":1.95},{"x":2.5,"y":1.2},{"x":2.52,"y":1.55},{"x":2.48,"y":1.85},{"x":2.6,"y":1.3},{"x":2.62,"y":1.6},{"x":2.58,"y":1.95},{"x":2.6,"y":2.15},{"x":2.7,"y":1.4},{"x":2.72,"y":1.75},{"x":2.68,"y":2.05},{"x":2.8,"y":1.5},{"x":2.82,"y":1.85},{"x":2.78,"y":2.15},{"x":2.8,"y":2.35},{"x":2.9,"y":1.6},{"x":2.92,"y":1.95},{"x":2.88,"y":2.25},{"x":3.0,"y":1.7},{"x":3.02,"y":2.05},{"x":2.98,"y":2.35},{"x":3.0,"y":2.55},{"x":3.1,"y":1.85},{"x":3.12,"y":2.15},{"x":3.08,"y":2.45},{"x":3.2,"y":1.95},{"x":3.22,"y":2.3},{"x":3.18,"y":2.6},{"x":3.3,"y":2.1},{"x":3.32,"y":2.45},{"x":3.28,"y":2.8},
    {"x":1.15,"y":0.25},{"x":1.25,"y":0.2},{"x":1.25,"y":0.45},{"x":1.35,"y":0.3},{"x":1.35,"y":0.55},{"x":1.45,"y":0.45},{"x":1.45,"y":0.7},{"x":1.55,"y":0.4},{"x":1.55,"y":0.7},{"x":1.65,"y":0.55},{"x":1.65,"y":0.85},{"x":1.75,"y":0.6},{"x":1.75,"y":0.9},{"x":1.85,"y":0.7},{"x":1.85,"y":1.0},{"x":1.85,"y":1.25},{"x":1.95,"y":0.8},{"x":1.95,"y":1.1},{"x":2.05,"y":0.85},{"x":2.05,"y":1.2},{"x":2.05,"y":1.45},{"x":2.15,"y":0.95},{"x":2.15,"y":1.3},{"x":2.25,"y":1.05},{"x":2.25,"y":1.4},{"x":2.25,"y":1.65},{"x":2.35,"y":1.2},{"x":2.35,"y":1.5},{"x":2.45,"y":1.25},{"x":2.45,"y":1.6},{"x":2.45,"y":1.85},{"x":2.55,"y":1.4},{"x":2.55,"y":1.7},{"x":2.65,"y":1.45},{"x":2.65,"y":1.8},{"x":2.65,"y":2.05},{"x":2.75,"y":1.6},{"x":2.75,"y":1.9},{"x":2.85,"y":1.65},{"x":2.85,"y":2.0},{"x":2.85,"y":2.25},{"x":2.95,"y":1.8},{"x":2.95,"y":2.1},{"x":3.05,"y":1.9},{"x":3.05,"y":2.25},{"x":3.15,"y":2.0},{"x":3.15,"y":2.3},{"x":3.25,"y":2.15},{"x":3.25,"y":2.5},
    {"x":0.46,"y":0.47},{"x":0.51,"y":0.1},{"x":0.67,"y":0.76},{"x":0.95,"y":1.3},{"x":1.07,"y":1.22},{"x":1.96,"y":2.38},{"x":1.91,"y":1.98},{"x":1.75,"y":1.88},{"x":3.24,"y":2.9},{"x":3.02,"y":1.04},{"x":1.98,"y":0.03},{"x":1.3,"y":1.0},{"x":1.6,"y":1.5},{"x":2.3,"y":0.6},{"x":2.5,"y":0.85},{"x":2.8,"y":1.2},{"x":3.3,"y":1.7},{"x":2.2,"y":2.1},{"x":2.55,"y":2.45},{"x":0.85,"y":0.5}
  ],
  "modLine": [{"x":1.02,"y":0.03},{"x":3.38,"y":2.37}],
  "bars": [
    {"n":"Max","v":0.902,"lo":0.904,"hi":0.906},
    {"n":"Model","v":0.836,"lo":0.83,"hi":0.844},
    {"n":"K36","v":0.769,"lo":0.761,"hi":0.785},
    {"n":"pol-II","v":0.617,"lo":0.604,"hi":0.636},
    {"n":"K4","v":0.192,"lo":0.171,"hi":0.212},
    {"n":"K27","v":0.256,"lo":0.243,"hi":0.28}
  ]
},
"spacing": 65,
"vconcat": [
  {
    "spacing": 6.5,
    "hconcat": [
      {"spacing": -1, "vconcat": [
        {"width": 261, "height": 26, "view": {"fill": "#d9d9d9", "stroke": "#333333"},
         "title": {"text": "A", "offset": -25, "dx": -42},
         "data": {"values": [{"t": "Low expressed"}]},
         "mark": {"type": "text", "fontSize": 18, "color": "#1a1a1a", "baseline": "middle"},
         "encoding": {"text": {"field": "t"}}},
        {"width": 261, "height": 236, "view": {"stroke": "#333333"},
         "layer": [
          {"data": {"name": "lowA"}, "mark": {"type": "line", "strokeWidth": 2.8},
           "encoding": {
            "x": {"field": "x", "type": "quantitative", "scale": {"domain": [-6.5, 6.55], "nice": false, "zero": false}, "axis": {"values": [-4,-2,0,2,4,6], "grid": false, "domain": false, "labelPadding": 11, "title": null}},
            "y": {"field": "y", "type": "quantitative", "scale": {"domain": [-0.27, 7.2], "nice": false, "zero": false}, "axis": {"values": [1,2,3,4,5,6], "labels": false, "grid": false, "domain": false, "title": "Enrichment", "titlePadding": 13}},
            "color": {"field": "s", "type": "nominal",
              "scale": {"domain": ["Pol-II","H3K36me3","H3K4me2","H3K27me3","Max","Model","K36","pol-II","K4","K27"], "range": ["#12a312","#6a3d9a","#b4acd5","#ff6600","#c0c0c0","#777777","#6a3d9a","#12a312","#b4acd5","#ff6600"]},
              "legend": {"orient": "none", "legendX": 75, "legendY": 342, "direction": "horizontal", "title": null, "values": ["Pol-II","H3K36me3","H3K4me2","H3K27me3"], "symbolType": "stroke", "symbolSize": 950, "symbolStrokeWidth": 3, "labelFontSize": 18, "labelFont": "Liberation Sans", "labelColor": "black", "labelOffset": 12, "columnPadding": 21}}
           }},
          {"data": {"values": [{"x": 0}]}, "mark": {"type": "rule", "strokeDash": [3,3], "color": "#555555", "strokeWidth": 1}, "encoding": {"x": {"field": "x", "type": "quantitative"}}}
         ]}
      ]},
      {"spacing": -1, "vconcat": [
        {"width": 261, "height": 26, "view": {"fill": "#d9d9d9", "stroke": "#333333"},
         "data": {"values": [{"t": "Intermediate"}]},
         "mark": {"type": "text", "fontSize": 18, "color": "#1a1a1a", "baseline": "middle"},
         "encoding": {"text": {"field": "t"}}},
        {"width": 261, "height": 236, "view": {"stroke": "#333333"},
         "layer": [
          {"data": {"name": "midA"}, "mark": {"type": "line", "strokeWidth": 2.8},
           "encoding": {
            "x": {"field": "x", "type": "quantitative", "scale": {"domain": [-6.5, 6.55], "nice": false, "zero": false}, "axis": {"values": [-4,-2,0,2,4,6], "grid": false, "domain": false, "labelPadding": 11, "title": "Position Around TSS (in kb)", "titlePadding": 17}},
            "y": {"field": "y", "type": "quantitative", "scale": {"domain": [-0.27, 7.2], "nice": false, "zero": false}, "axis": null},
            "color": {"field": "s", "type": "nominal",
              "scale": {"domain": ["Pol-II","H3K36me3","H3K4me2","H3K27me3","Max","Model","K36","pol-II","K4","K27"], "range": ["#12a312","#6a3d9a","#b4acd5","#ff6600","#c0c0c0","#777777","#6a3d9a","#12a312","#b4acd5","#ff6600"]},
              "legend": {"orient": "none", "legendX": 75, "legendY": 342, "direction": "horizontal", "title": null, "values": ["Pol-II","H3K36me3","H3K4me2","H3K27me3"], "symbolType": "stroke", "symbolSize": 950, "symbolStrokeWidth": 3, "labelFontSize": 18, "labelFont": "Liberation Sans", "labelColor": "black", "labelOffset": 12, "columnPadding": 21}}
           }},
          {"data": {"values": [{"x": 0}]}, "mark": {"type": "rule", "strokeDash": [3,3], "color": "#555555", "strokeWidth": 1}, "encoding": {"x": {"field": "x", "type": "quantitative"}}}
         ]}
      ]},
      {"spacing": -1, "vconcat": [
        {"width": 261, "height": 26, "view": {"fill": "#d9d9d9", "stroke": "#333333"},
         "data": {"values": [{"t": "High expressed"}]},
         "mark": {"type": "text", "fontSize": 18, "color": "#1a1a1a", "baseline": "middle"},
         "encoding": {"text": {"field": "t"}}},
        {"width": 261, "height": 236, "view": {"stroke": "#333333"},
         "layer": [
          {"data": {"name": "highA"}, "mark": {"type": "line", "strokeWidth": 2.8},
           "encoding": {
            "x": {"field": "x", "type": "quantitative", "scale": {"domain": [-6.5, 6.55], "nice": false, "zero": false}, "axis": {"values": [-4,-2,0,2,4,6], "grid": false, "domain": false, "labelPadding": 11, "title": null}},
            "y": {"field": "y", "type": "quantitative", "scale": {"domain": [-0.27, 7.2], "nice": false, "zero": false}, "axis": null},
            "color": {"field": "s", "type": "nominal",
              "scale": {"domain": ["Pol-II","H3K36me3","H3K4me2","H3K27me3","Max","Model","K36","pol-II","K4","K27"], "range": ["#12a312","#6a3d9a","#b4acd5","#ff6600","#c0c0c0","#777777","#6a3d9a","#12a312","#b4acd5","#ff6600"]},
              "legend": {"orient": "none", "legendX": 75, "legendY": 342, "direction": "horizontal", "title": null, "values": ["Pol-II","H3K36me3","H3K4me2","H3K27me3"], "symbolType": "stroke", "symbolSize": 950, "symbolStrokeWidth": 3, "labelFontSize": 18, "labelFont": "Liberation Sans", "labelColor": "black", "labelOffset": 12, "columnPadding": 21}}
           }},
          {"data": {"values": [{"x": 0}]}, "mark": {"type": "rule", "strokeDash": [3,3], "color": "#555555", "strokeWidth": 1}, "encoding": {"x": {"field": "x", "type": "quantitative"}}}
         ]}
      ]}
    ]
  },
  {
    "columns": 3,
    "align": "each",
    "spacing": {"row": 29, "column": 40},
    "concat": [
      {"width": 226, "height": 214,
       "title": {"text": "B", "offset": -13.5, "dx": -42},
       "encoding": {
         "x": {"field": "x", "type": "quantitative", "scale": {"domain": [-0.3, 6.25], "nice": false, "zero": false}, "axis": {"values": [0,1,2,3,4,5,6], "labels": false, "grid": true, "title": "Pol-II", "titlePadding": 9}},
         "y": {"field": "y", "type": "quantitative", "scale": {"domain": [-0.19, 3.16], "nice": false, "zero": false}, "axis": {"values": [0,1,2,3], "labels": false, "grid": true, "title": "mRNA", "titlePadding": 7}}
       },
       "layer": [
         {"data": {"name": "pol"}, "mark": {"type": "circle", "size": 40, "opacity": 0.5, "color": "#14a814"}},
         {"data": {"name": "polLine"}, "mark": {"type": "line", "color": "#1a1a1a", "strokeWidth": 1.3}}
       ]},
      {"width": 226, "height": 214,
       "encoding": {
         "x": {"field": "x", "type": "quantitative", "scale": {"domain": [-0.3, 6.25], "nice": false, "zero": false}, "axis": {"values": [0,1,2,3,4,5,6], "labels": false, "grid": true, "title": "H3K36me3", "titlePadding": 9}},
         "y": {"field": "y", "type": "quantitative", "scale": {"domain": [-0.19, 3.16], "nice": false, "zero": false}, "axis": {"values": [0,1,2,3], "labels": false, "grid": true, "title": null, "minExtent": 18}}
       },
       "layer": [
         {"data": {"name": "k36"}, "mark": {"type": "circle", "size": 40, "opacity": 0.55, "color": "#6a3d9a"}},
         {"data": {"name": "k36Line"}, "mark": {"type": "line", "color": "#1a1a1a", "strokeWidth": 1.3}}
       ]},
      {"width": 219, "height": 214,
       "title": {"text": "C", "offset": -13.5, "dx": -32},
       "encoding": {
         "x": {"field": "x", "type": "quantitative", "scale": {"domain": [0.309, 3.38], "nice": false, "zero": false}, "axis": {"values": [1,2,3], "labels": false, "grid": true, "title": "Model", "titlePadding": 9}},
         "y": {"field": "y", "type": "quantitative", "scale": {"domain": [-0.19, 3.16], "nice": false, "zero": false}, "axis": {"values": [0,1,2,3], "labels": false, "grid": true, "title": "mRNA", "titlePadding": 5}}
       },
       "layer": [
         {"data": {"name": "mod"}, "mark": {"type": "circle", "size": 40, "opacity": 0.65, "color": "black"}},
         {"data": {"name": "modLine"}, "mark": {"type": "line", "color": "#ff0000", "strokeWidth": 1.6}}
       ]},
      {"width": 226, "height": 213,
       "encoding": {
         "x": {"field": "x", "type": "quantitative", "scale": {"domain": [-0.3, 6.25], "nice": false, "zero": false}, "axis": {"values": [0,1,2,3,4,5,6], "labels": false, "grid": true, "title": "H3K4me2", "titlePadding": 9}},
         "y": {"field": "y", "type": "quantitative", "scale": {"domain": [-0.15, 3.18], "nice": false, "zero": false}, "axis": {"values": [0,1,2,3], "labels": false, "grid": true, "title": null}}
       },
       "layer": [
         {"data": {"name": "k4"}, "mark": {"type": "circle", "size": 36, "opacity": 0.7, "color": "#b4acd5"}},
         {"data": {"name": "k4Line"}, "mark": {"type": "line", "color": "#1a1a1a", "strokeWidth": 1.3}}
       ]},
      {"width": 226, "height": 213,
       "encoding": {
         "x": {"field": "x", "type": "quantitative", "scale": {"domain": [-0.3, 6.25], "nice": false, "zero": false}, "axis": {"values": [0,1,2,3,4,5,6], "labels": false, "grid": true, "title": "H3K27me3", "titlePadding": 9}},
         "y": {"field": "y", "type": "quantitative", "scale": {"domain": [-0.15, 3.18], "nice": false, "zero": false}, "axis": {"values": [0,1,2,3], "labels": false, "grid": true, "title": null, "minExtent": 18}}
       },
       "layer": [
         {"data": {"name": "k27"}, "mark": {"type": "circle", "size": 40, "opacity": 0.55, "color": "#ff6600"}},
         {"data": {"name": "k27Line"}, "mark": {"type": "line", "color": "#1a1a1a", "strokeWidth": 1.3}}
       ]},
      {"width": 218, "height": 192,
       "view": {"stroke": "black", "strokeWidth": 2},
       "title": {"text": "D", "offset": -17.7, "dx": -31},
       "data": {"name": "bars"},
       "encoding": {
         "y": {"field": "n", "type": "nominal", "sort": null, "scale": {"paddingInner": 0.14, "paddingOuter": 0.07}, "axis": {"labels": false, "title": null, "domain": false, "tickSize": 5, "tickColor": "black", "grid": true}}
       },
       "layer": [
         {"mark": {"type": "bar", "stroke": "white", "strokeWidth": 0.8},
          "encoding": {
            "x": {"field": "v", "type": "quantitative", "title": null, "scale": {"domain": [-0.058, 0.99], "nice": false, "zero": false}, "axis": {"values": [0,0.2,0.4,0.6,0.8], "format": ".1f", "labelAngle": 270, "labelFontSize": 18, "labelPadding": 5, "tickSize": 5, "tickColor": "black", "domain": false, "grid": true, "title": null}},
            "x2": {"datum": 0},
            "color": {"field": "n", "type": "nominal",
              "scale": {"domain": ["Pol-II","H3K36me3","H3K4me2","H3K27me3","Max","Model","K36","pol-II","K4","K27"], "range": ["#12a312","#6a3d9a","#b4acd5","#ff6600","#c0c0c0","#777777","#6a3d9a","#12a312","#b4acd5","#ff6600"]},
              "legend": null}
          }},
         {"mark": {"type": "rule", "color": "black", "strokeWidth": 1.2}, "encoding": {"x": {"field": "lo", "type": "quantitative", "title": null}, "x2": {"field": "hi"}}},
         {"mark": {"type": "tick", "color": "black", "thickness": 1.2, "size": 11}, "encoding": {"x": {"field": "lo", "type": "quantitative", "title": null}}},
         {"mark": {"type": "tick", "color": "black", "thickness": 1.2, "size": 11}, "encoding": {"x": {"field": "hi", "type": "quantitative", "title": null}}},
         {"mark": {"type": "text", "align": "left", "baseline": "middle", "fontSize": 18, "color": "black"}, "encoding": {"x": {"datum": 0.305}, "text": {"field": "n"}}}
       ]}
    ]
  }
]
}
